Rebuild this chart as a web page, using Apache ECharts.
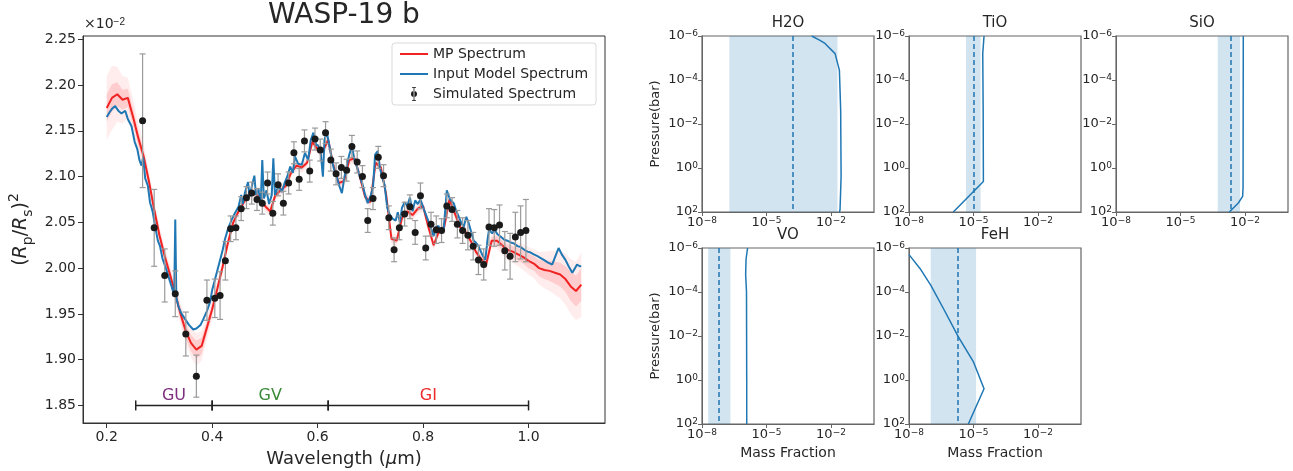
<!DOCTYPE html>
<html>
<head>
<meta charset="utf-8">
<script src="https://cdn.jsdelivr.net/npm/echarts@6/dist/echarts.min.js"></script>
<style>html,body{margin:0;padding:0;background:#fff}#chart{width:1293px;height:471px}</style>
</head>
<body>
<div id="chart"></div>
<script>
const FONT = 'DejaVu Sans';
const C0 = '#1f77b4';
const RED = '#f02222';
const TXT = '#262626';

// ---- spectrum panel data (units of 1e-2) ----
const blueWave = [0.200,0.205,0.210,0.216,0.222,0.228,0.235,0.240,0.247,0.253,0.258,0.262,0.266,0.269,0.273,0.278,0.282,0.287,0.292,0.297,
  0.301,0.306,0.311,0.317,0.323,0.328,0.330,0.332,0.336,0.342,0.349,0.356,0.364,0.370,0.374,0.378,0.383,0.390,0.396,0.400,
  0.405,0.410,0.415,0.420,0.424,0.430,0.437,0.443,0.450,0.455,0.458,0.462,0.468,0.471,0.475,0.480,0.483,0.488,0.492,0.495,
  0.498,0.503,0.508,0.513,0.516,0.519,0.526,0.532,0.538,0.543,0.548,0.553,0.557,0.563,0.570,0.576,0.582,0.587,0.592,0.597,
  0.601,0.606,0.610,0.613,0.617,0.621,0.626,0.631,0.636,0.641,0.646,0.651,0.656,0.660,0.665,0.670,0.675,0.680,0.685,0.690,
  0.695,0.700,0.705,0.709,0.714,0.718,0.722,0.727,0.732,0.737,0.742,0.748,0.752,0.756,0.760,0.765,0.770,0.775,0.780,0.785,
  0.790,0.795,0.801,0.807,0.814,0.820,0.825,0.829,0.834,0.839,0.845,0.851,0.858,0.862,0.867,0.872,0.877,0.882,0.886,0.891,
  0.896,0.900,0.905,0.912,0.918,0.922,0.925,0.931,0.936,0.941,0.948,0.954,0.960,0.966,0.972,0.979,0.985,0.992,0.998,1.004,
  1.010,1.017,1.023,1.029,1.037,1.045,1.051,1.057,1.063,1.070,1.076,1.083,1.088,1.092,1.097,1.100];
const blueFlux = [2.165,2.170,2.174,2.177,2.172,2.169,2.172,2.163,2.155,2.138,2.130,2.118,2.112,2.121,2.098,2.090,2.072,2.062,2.045,2.030,
  2.024,2.010,2.002,1.991,1.980,1.970,2.053,1.968,1.958,1.950,1.944,1.938,1.933,1.934,1.936,1.938,1.944,1.953,1.963,1.976,
  1.987,1.998,2.009,2.020,2.031,2.043,2.053,2.060,2.067,2.080,2.070,2.082,2.094,2.078,2.089,2.101,2.080,2.086,2.070,2.118,
  2.076,2.085,2.070,2.080,2.120,2.080,2.090,2.083,2.094,2.101,2.111,2.104,2.122,2.114,2.113,2.126,2.118,2.140,2.148,2.135,
  2.134,2.125,2.100,2.140,2.149,2.138,2.122,2.108,2.100,2.090,2.082,2.100,2.114,2.124,2.133,2.118,2.110,2.100,2.092,2.080,
  2.071,2.078,2.088,2.124,2.128,2.110,2.100,2.091,2.066,2.058,2.054,2.052,2.061,2.050,2.066,2.072,2.068,2.077,2.062,2.074,
  2.070,2.075,2.065,2.056,2.045,2.035,2.045,2.046,2.040,2.042,2.085,2.075,2.071,2.064,2.057,2.050,2.045,2.056,2.050,2.040,
  2.030,2.028,2.024,2.015,2.009,2.030,2.042,2.038,2.042,2.037,2.034,2.031,2.030,2.028,2.027,2.024,2.023,2.020,2.018,2.017,
  2.015,2.013,2.011,2.009,2.006,2.004,2.013,2.022,2.015,2.009,2.002,1.995,2.000,2.004,2.002,2.002];

const mpWave = [0.20,0.21,0.22,0.23,0.24,0.25,0.26,0.27,0.28,0.29,0.30,0.31,0.32,0.33,0.34,0.35,0.36,0.37,0.38,0.39,
  0.40,0.41,0.42,0.43,0.44,0.45,0.46,0.47,0.48,0.49,0.50,0.51,0.52,0.53,0.54,0.55,0.56,0.57,0.58,0.59,
  0.60,0.61,0.62,0.63,0.64,0.65,0.66,0.67,0.68,0.69,0.70,0.71,0.72,0.73,0.74,0.75,0.76,0.77,0.78,0.79,
  0.80,0.81,0.82,0.83,0.84,0.85,0.86,0.87,0.88,0.89,0.90,0.91,0.92,0.93,0.94,0.95,0.96,0.97,0.98,0.99,
  1.00,1.01,1.02,1.03,1.04,1.05,1.06,1.07,1.08,1.09,1.10];
const mpFlux = [2.175,2.186,2.190,2.184,2.186,2.165,2.142,2.122,2.095,2.064,2.036,2.013,1.993,1.972,1.950,1.931,1.918,1.911,1.915,1.935,
  1.955,1.978,2.002,2.028,2.050,2.062,2.072,2.080,2.082,2.078,2.068,2.062,2.080,2.085,2.090,2.105,2.112,2.110,2.115,2.138,
  2.130,2.128,2.140,2.112,2.093,2.095,2.118,2.120,2.100,2.078,2.072,2.115,2.110,2.080,2.032,2.030,2.055,2.062,2.058,2.065,
  2.068,2.045,2.025,2.040,2.045,2.075,2.060,2.045,2.040,2.030,2.018,2.010,2.005,2.030,2.030,2.025,2.020,2.018,2.015,2.012,
  2.008,2.005,2.000,1.998,1.997,1.995,1.993,1.988,1.980,1.975,1.982];
const mpSigma1 = [0.015,0.015,0.013,0.011,0.010,0.009,0.008,0.007,0.006,0.006,0.006,0.006,0.006,0.006,0.007,0.008,0.009,0.010,0.009,0.007,
  0.006,0.005,0.005,0.004,0.003,0.003,0.003,0.003,0.003,0.003,0.003,0.003,0.003,0.003,0.003,0.003,0.003,0.003,0.003,0.003,
  0.003,0.003,0.003,0.003,0.003,0.003,0.003,0.003,0.003,0.003,0.003,0.003,0.003,0.003,0.003,0.003,0.003,0.003,0.003,0.003,
  0.003,0.003,0.003,0.003,0.003,0.003,0.003,0.003,0.003,0.003,0.003,0.004,0.004,0.004,0.005,0.005,0.006,0.006,0.007,0.007,
  0.008,0.008,0.009,0.010,0.011,0.012,0.013,0.014,0.016,0.017,0.018];
const mpSigma2 = [0.035,0.035,0.030,0.026,0.022,0.019,0.016,0.014,0.012,0.011,0.010,0.010,0.010,0.011,0.012,0.014,0.016,0.018,0.016,0.013,
  0.011,0.009,0.008,0.007,0.006,0.006,0.006,0.006,0.006,0.006,0.006,0.006,0.006,0.006,0.006,0.006,0.006,0.006,0.006,0.006,
  0.006,0.006,0.006,0.006,0.006,0.006,0.006,0.006,0.006,0.006,0.006,0.006,0.006,0.006,0.006,0.006,0.006,0.006,0.006,0.006,
  0.006,0.006,0.006,0.006,0.006,0.006,0.006,0.006,0.006,0.006,0.006,0.007,0.008,0.008,0.009,0.010,0.011,0.012,0.013,0.014,
  0.015,0.016,0.018,0.020,0.022,0.024,0.026,0.028,0.030,0.032,0.035];

const obsWave = [0.268,0.290,0.310,0.330,0.350,0.370,0.390,0.405,0.415,0.425,0.435,0.445,0.455,0.465,0.475,0.485,0.495,0.505,0.515,0.525,
  0.535,0.545,0.555,0.565,0.575,0.585,0.595,0.605,0.615,0.625,0.635,0.645,0.655,0.665,0.675,0.685,0.695,0.705,0.715,0.725,
  0.735,0.745,0.755,0.765,0.775,0.785,0.795,0.805,0.815,0.825,0.835,0.845,0.855,0.865,0.875,0.885,0.895,0.905,0.915,0.925,
  0.935,0.945,0.955,0.965,0.975,0.985,0.995];
const obsFlux = [2.161,2.044,1.992,1.972,1.928,1.882,1.965,1.967,1.970,2.008,2.043,2.044,2.065,2.077,2.082,2.075,2.071,2.093,2.060,2.091,
  2.071,2.093,2.126,2.097,2.139,2.106,2.141,2.129,2.148,2.118,2.103,2.110,2.107,2.133,2.116,2.100,2.052,2.076,2.121,2.101,
  2.055,2.020,2.044,2.059,2.067,2.039,2.079,2.022,2.048,2.042,2.041,2.068,2.064,2.048,2.041,2.036,2.024,2.009,2.004,2.045,
  2.044,2.047,2.019,2.013,2.034,2.039,2.041];
const obsErr = [0.073,0.042,0.029,0.025,0.024,0.023,0.022,0.021,0.026,0.021,0.014,0.013,0.013,0.012,0.012,0.012,0.012,0.012,0.013,0.012,
  0.013,0.012,0.012,0.012,0.012,0.012,0.012,0.012,0.012,0.012,0.012,0.012,0.012,0.012,0.012,0.012,0.013,0.012,0.012,0.012,
  0.013,0.013,0.013,0.013,0.013,0.013,0.014,0.013,0.013,0.015,0.013,0.013,0.013,0.015,0.014,0.016,0.015,0.016,0.017,0.020,
  0.020,0.022,0.021,0.025,0.027,0.029,0.034];

const bandEdges = [0.255, 0.40, 0.62, 1.00];
const bandNames = ['GU', 'GV', 'GI'];
const bandColors = ['#7d2e7d', '#3a8a3a', '#ee2a2a'];
const bandLevel = 1.85;
const specYTicks = [1.85, 1.90, 1.95, 2.00, 2.05, 2.10, 2.15, 2.20, 2.25];
const specXTicks = [0.2, 0.4, 0.6, 0.8, 1.0];

// ---- abundance profiles (log10 mass fraction vs log10 pressure/bar) ----
const species = ['H2O', 'TiO', 'SiO', 'VO', 'FeH'];
const h2oLogP = [-6, -5.8, -5.66, -5.2, -4.45, -2.63, 0.39, 1.9, 2];
const h2oLogX = [-2.90, -2.51, -2.28, -1.81, -1.61, -1.55, -1.53, -1.58, -1.61];
const tioLogP = [-6, -5.2, -2.6, 0.61, 2];
const tioLogX = [-4.51, -4.57, -4.55, -4.54, -5.94];
const sioLogP = [-6, 0.9, 1.29, 1.59, 2];
const sioLogX = [-2.08, -2.09, -2.11, -2.31, -2.73];
const voLogP = [-6, -5.5, -4.8, -4, 0, 2];
const voLogX = [-5.88, -5.95, -5.97, -5.93, -5.92, -5.92];
const fehLogP = [-5.70, -5.07, -4.31, -3.25, -1.97, -0.84, 0.40, 2];
const fehLogX = [-8, -7.49, -6.99, -6.40, -5.71, -5.01, -4.51, -5.24];
const retrLow = [-6.73, -5.35, -3.27, -7.71, -6.99];
const retrHigh = [-1.70, -4.67, -2.23, -6.68, -4.88];
const retrMedian = [-3.78, -5.01, -2.67, -7.20, -5.74];
const massTicks = [-8, -5, -2];
const pressTicks = [-6, -4, -2, 0, 2];

const panelLeft = [702, 909, 1116, 702, 909];
const panelTop = [36, 36, 36, 248, 248];
const panelW = 172, panelH = 176;

function zip() {
  const arrs = Array.from(arguments);
  return arrs[0].map((_, i) => arrs.map(a => a[i]));
}
function pow10(v) {
  const s = v < 0 ? '\u2212' + Math.abs(v) : String(v);
  return '10{s|' + s + '}';
}
const supRich = { s: { fontSize: 9, lineHeight: 10, verticalAlign: 'top', fontFamily: FONT, color: TXT } };

// shaded band: one polygon built from every [x, lo, hi] item
function makeBandRender(color) {
  return function (params, api) {
    if (params.dataIndex !== 0) return;
    const n = params.dataInsideLength;
    const upper = [], lower = [];
    for (let j = 0; j < n; j++) {
      const x = api.value(0, j);
      upper.push(api.coord([x, api.value(2, j)]));
      lower.push(api.coord([x, api.value(1, j)]));
    }
    return { type: 'polygon', shape: { points: upper.concat(lower.reverse()) }, style: { fill: color } };
  };
}
function renderErr(params, api) {
  const x = api.value(0), y = api.value(1), e = api.value(2);
  const top = api.coord([x, y + e]);
  const bot = api.coord([x, y - e]);
  const style = { stroke: '#9a9a9a', lineWidth: 1.2 };
  return { type: 'group', children: [
    { type: 'line', shape: { x1: top[0], y1: top[1], x2: bot[0], y2: bot[1] }, style },
    { type: 'line', shape: { x1: top[0] - 3, y1: top[1], x2: top[0] + 3, y2: top[1] }, style },
    { type: 'line', shape: { x1: bot[0] - 3, y1: bot[1], x2: bot[0] + 3, y2: bot[1] }, style }
  ]};
}
function renderBands(params, api) {
  const i = params.dataIndex;
  const a = api.coord([api.value(0), bandLevel]);
  const b = api.coord([api.value(1), bandLevel]);
  const style = { stroke: '#222', lineWidth: 1.5 };
  return { type: 'group', children: [
    { type: 'line', shape: { x1: a[0], y1: a[1], x2: b[0], y2: b[1] }, style },
    { type: 'line', shape: { x1: a[0], y1: a[1] - 5, x2: a[0], y2: a[1] + 5 }, style },
    { type: 'line', shape: { x1: b[0], y1: b[1] - 5, x2: b[0], y2: b[1] + 5 }, style },
    { type: 'text', x: (a[0] + b[0]) / 2, y: a[1] - 2,
      style: { text: bandNames[i], fill: bandColors[i], font: '16px "DejaVu Sans"', align: 'center', verticalAlign: 'bottom' } }
  ]};
}

const chart = echarts.init(document.getElementById('chart'));

const grids = [{ left: 83, top: 36, width: 522, height: 387, show: true, borderColor: '#333', borderWidth: 1, outerBoundsMode: 'none' }];
const xAxes = [{
  gridIndex: 0, type: 'value', min: 0.155, max: 1.145,
  name: 'Wavelength ({i|\u03bc}m)', nameLocation: 'middle', nameGap: 27,
  nameTextStyle: { fontSize: 18, color: TXT, fontFamily: FONT, rich: { i: { fontStyle: 'italic', fontSize: 18, fontFamily: FONT, color: TXT } } },
  axisLine: { onZero: false, lineStyle: { color: '#333' } },
  axisTick: { length: 5, lineStyle: { color: '#333' }, customValues: specXTicks },
  axisLabel: { fontSize: 14, color: TXT, fontFamily: FONT, margin: 7, customValues: specXTicks, formatter: v => v.toFixed(1) },
  splitLine: { show: false }
}];
const yAxes = [{
  gridIndex: 0, type: 'value', min: 1.8308, max: 2.2536,
  name: '({i|R}{sub|p}/{i|R}{sub|s}){sup|2}', nameLocation: 'middle', nameGap: 48, nameRotate: 90,
  nameTextStyle: { fontSize: 19, color: TXT, fontFamily: FONT, rich: {
    i: { fontStyle: 'italic', fontSize: 19, lineHeight: 28, verticalAlign: 'middle', fontFamily: FONT, color: TXT },
    sub: { fontSize: 14, lineHeight: 14, verticalAlign: 'bottom', fontFamily: FONT, color: TXT },
    sup: { fontSize: 14, lineHeight: 13, verticalAlign: 'top', fontFamily: FONT, color: TXT }
  } },
  axisLine: { onZero: false, lineStyle: { color: '#333' } },
  axisTick: { length: 5, lineStyle: { color: '#333' }, customValues: specYTicks },
  axisLabel: { fontSize: 14, color: TXT, fontFamily: FONT, margin: 7, customValues: specYTicks, formatter: v => v.toFixed(2) },
  splitLine: { show: false }
}];

const series = [
  { type: 'custom', name: 'mp2', data: zip(mpWave, mpFlux.map((f, i) => f - mpSigma2[i]), mpFlux.map((f, i) => f + mpSigma2[i])),
    renderItem: makeBandRender('rgba(255,80,80,0.10)'), silent: true, clip: true, z: 1 },
  { type: 'custom', name: 'mp1', data: zip(mpWave, mpFlux.map((f, i) => f - mpSigma1[i]), mpFlux.map((f, i) => f + mpSigma1[i])),
    renderItem: makeBandRender('rgba(255,80,80,0.20)'), silent: true, clip: true, z: 1 },
  { type: 'line', name: 'MP Spectrum', data: zip(mpWave, mpFlux), symbol: 'none',
    color: RED, lineStyle: { color: RED, width: 2 }, z: 2 },
  { type: 'line', name: 'Input Model Spectrum', data: zip(blueWave, blueFlux), symbol: 'none',
    color: C0, lineStyle: { color: C0, width: 2 }, z: 3 },
  { type: 'custom', name: 'errbars', data: zip(obsWave, obsFlux, obsErr), renderItem: renderErr, z: 4, silent: true },
  { type: 'scatter', name: 'Simulated Spectrum', data: zip(obsWave, obsFlux), symbolSize: 7,
    color: '#1a1a1a', itemStyle: { color: '#1a1a1a', opacity: 1 }, z: 5 },
  { type: 'custom', name: 'bands', data: bandNames.map((n, i) => [bandEdges[i], bandEdges[i + 1]]),
    renderItem: renderBands, z: 5, silent: true, clip: false }
];

const titles = [{ text: 'WASP-19 b', left: 344, top: 2, textAlign: 'center', padding: 0,
  textStyle: { fontSize: 28, fontWeight: 'normal', color: TXT, fontFamily: FONT } }];

const profiles = [[h2oLogX, h2oLogP], [tioLogX, tioLogP], [sioLogX, sioLogP], [voLogX, voLogP], [fehLogX, fehLogP]];

species.forEach((sp, k) => {
  const gi = k + 1;
  grids.push({ left: panelLeft[k], top: panelTop[k], width: panelW, height: panelH, show: true,
    borderColor: '#666', borderWidth: 1.2, outerBoundsMode: 'none' });
  xAxes.push({
    gridIndex: gi, type: 'value', min: -8, max: 0,
    name: k >= 3 ? 'Mass Fraction' : '', nameLocation: 'middle', nameGap: 22,
    nameTextStyle: { fontSize: 14, color: TXT, fontFamily: FONT },
    axisLine: { onZero: false, lineStyle: { color: '#666' } },
    axisTick: { length: 4, lineStyle: { color: '#666' }, customValues: massTicks },
    axisLabel: { customValues: massTicks, formatter: pow10, margin: 4, fontSize: 13, color: TXT, fontFamily: FONT, rich: supRich },
    splitLine: { show: false }
  });
  yAxes.push({
    gridIndex: gi, type: 'value', min: -6, max: 2, inverse: true,
    name: k % 3 === 0 ? 'Pressure(bar)' : '', nameLocation: 'middle', nameGap: 40, nameRotate: 90,
    nameTextStyle: { fontSize: 13, color: TXT, fontFamily: FONT },
    axisLine: { onZero: false, lineStyle: { color: '#666' } },
    axisTick: { length: 4, lineStyle: { color: '#666' }, customValues: pressTicks },
    axisLabel: { customValues: pressTicks, formatter: pow10, margin: 4, fontSize: 13, color: TXT, fontFamily: FONT, rich: supRich },
    splitLine: { show: false }
  });
  series.push({
    type: 'line', name: sp + ' profile', xAxisIndex: gi, yAxisIndex: gi,
    data: zip(profiles[k][0], profiles[k][1]), symbol: 'none',
    lineStyle: { color: C0, width: 1.5 }, color: C0, z: 3,
    markArea: { silent: true, itemStyle: { color: 'rgba(31,119,180,0.2)' },
      data: [[{ xAxis: retrLow[k] }, { xAxis: retrHigh[k] }]] },
    markLine: { silent: true, symbol: 'none', label: { show: false },
      lineStyle: { color: C0, width: 1.5, type: [5, 3] }, data: [{ xAxis: retrMedian[k] }] }
  });
  titles.push({ text: sp, left: panelLeft[k] + panelW / 2, top: panelTop[k] - 20, textAlign: 'center', padding: 0,
    textStyle: { fontSize: 15, fontWeight: 'normal', color: TXT, fontFamily: FONT } });
});

const lineIcon = 'path://M0,0H28V2H0Z';
chart.setOption({
  animation: false,
  backgroundColor: '#fff',
  textStyle: { fontFamily: FONT },
  title: titles,
  grid: grids,
  xAxis: xAxes,
  yAxis: yAxes,
  legend: {
    left: 392, top: 43, orient: 'vertical',
    padding: [4, 8, 4, 8], itemGap: 6, itemWidth: 28, itemHeight: 14,
    backgroundColor: '#fff', borderColor: '#d9d9d9', borderWidth: 1, borderRadius: 3,
    textStyle: { fontSize: 14, color: TXT, fontFamily: FONT },
    data: [{ name: 'MP Spectrum', icon: lineIcon }, { name: 'Input Model Spectrum', icon: lineIcon },
      { name: 'Simulated Spectrum', icon: 'path://M5.6,0H6.4V14H5.6Z M4,0H8V0.8H4Z M4,13.2H8V14H4Z M9,7A3,3 0 1 0 3,7A3,3 0 1 0 9,7Z' }]
  },
  graphic: [{
    type: 'text', left: 84, top: 17,
    style: { text: '\u00d710{s|\u22122}', font: '14px "DejaVu Sans"', fill: TXT,
      rich: { s: { fontSize: 10, lineHeight: 10, verticalAlign: 'top', fill: TXT } } }
  }],
  series: series
});
</script>
</body>
</html>
